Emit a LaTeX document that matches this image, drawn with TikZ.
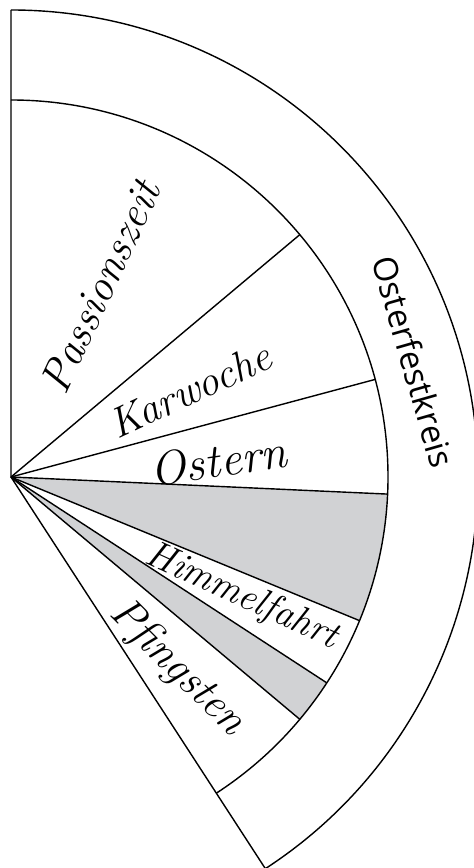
\documentclass[tikz,border=0pt]{standalone}
\usepackage{fontspec}
\setsansfont{Open Sans}
\definecolor{SektorGrau}{RGB}{209,210,212}
\newcommand{\Rinnen}{7.54}
\newcommand{\Raussen}{9.34}

\begin{document}
\begin{tikzpicture}[x=1cm,y=1cm,
    rand/.style={line width=0.8pt,black},
    zeitraum/.style={font=\fontsize{#1}{#1}\selectfont\itshape,inner sep=0pt},
    zeitraum/.default=25,
    kreisname/.style={font=\fontsize{19}{22}\selectfont\sffamily,inner sep=0pt}
  ]
  \useasboundingbox (-0.22,-7.82) rectangle (9.24,9.54);

  % graue Sektoren
  \fill[SektorGrau] (0,0) -- (-2.6:\Rinnen)
    arc[start angle=-2.6,end angle=-22.4,radius=\Rinnen] -- cycle;
  \fill[SektorGrau] (0,0) -- (-33.1:\Rinnen)
    arc[start angle=-33.1,end angle=-40,radius=\Rinnen] -- cycle;

  % Umriss
  \draw[rand] (90:\Raussen) -- (0,0) -- (-57:\Raussen);
  \draw[rand] (90:\Raussen) arc[start angle=90,end angle=-57,radius=\Raussen];
  \draw[rand] (90:\Rinnen) arc[start angle=90,end angle=-57,radius=\Rinnen];
  \foreach \w in {40,15,-2.6,-22.4,-33.1,-40}
    \draw[rand] (0,0) -- (\w:\Rinnen);

  \node[zeitraum=25,rotate=65] (passion) at (64.9:4.2) {Passionszeit};
  \node[zeitraum=24,rotate=25] (karwoche) at (26:3.98) {Karwoche};
  \node[zeitraum=27,rotate=8] (ostern) at (4.5:4.16) {Ostern};
  \node[zeitraum=22,rotate=-24.5] (himmel) at (-27.4:5.2) {Himmelfahrt};
  \node[zeitraum=25,rotate=-45] (pfingsten) at (-49:5.06) {Pfingsten};

  \node[kreisname,rotate=-74] (osterkreis) at (16:8.38) {Osterfestkreis};
\end{tikzpicture}
\end{document}
